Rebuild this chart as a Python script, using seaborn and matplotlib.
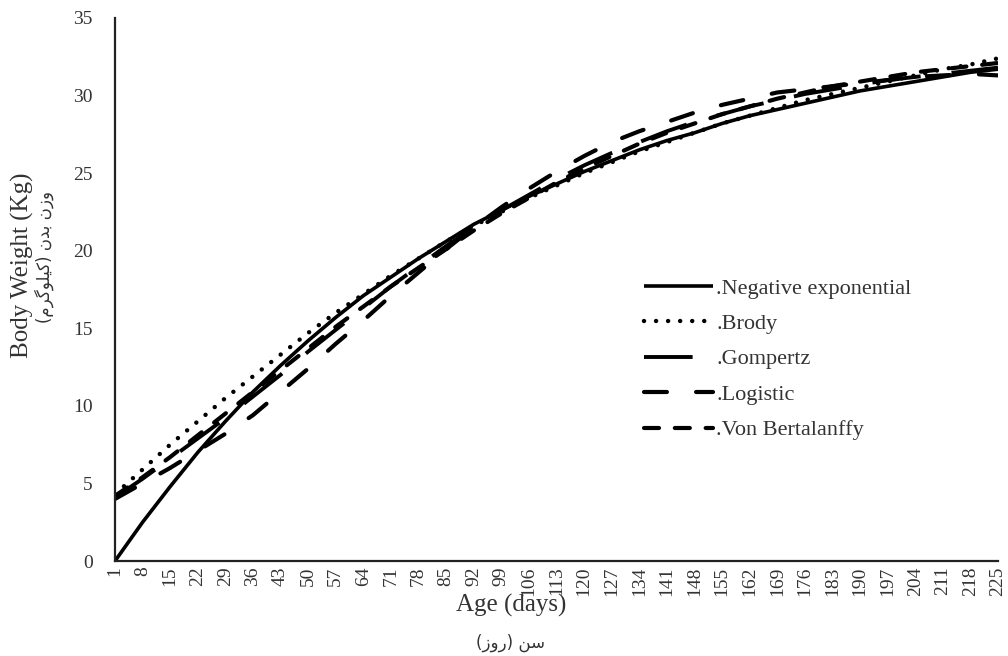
import matplotlib
matplotlib.use("Agg")
import matplotlib.pyplot as plt
import seaborn as sns
import pandas as pd

days = [1, 8, 15, 22, 29, 36, 43, 50, 57, 64, 71, 78, 85, 92, 99, 106, 113,
        120, 127, 134, 141, 148, 155, 162, 169, 176, 183, 190, 197, 204, 211, 218, 225]

neg_exp = [0.0, 2.5, 4.8, 7.0, 9.0, 10.9, 12.6, 14.2, 15.7, 17.1, 18.3, 19.5, 20.6, 21.7, 22.6, 23.5, 24.3,
           25.1, 25.8, 26.5, 27.1, 27.6, 28.2, 28.7, 29.1, 29.5, 29.9, 30.3, 30.6, 30.9, 31.2, 31.5, 31.7]
brody = [4.3, 5.9, 7.5, 9.0, 10.5, 11.9, 13.3, 14.7, 16.0, 17.2, 18.4, 19.5, 20.6, 21.6, 22.5, 23.4, 24.2,
         25.0, 25.7, 26.4, 27.0, 27.6, 28.2, 28.7, 29.2, 29.7, 30.1, 30.5, 30.9, 31.3, 31.7, 32.0, 32.4]
gompertz = [4.1, 5.3, 6.6, 7.9, 9.2, 10.6, 12.0, 13.5, 14.9, 16.3, 17.7, 19.0, 20.3, 21.5, 22.6, 23.6, 24.6,
            25.5, 26.3, 27.0, 27.7, 28.3, 28.8, 29.3, 29.7, 30.1, 30.4, 30.7, 31.0, 31.2, 31.4, 31.6, 31.8]
logistic = [4.0, 5.0, 6.0, 7.1, 8.2, 9.4, 10.9, 12.4, 14.0, 15.5, 17.1, 18.6, 20.1, 21.5, 22.8, 24.0, 25.1,
            26.1, 27.0, 27.7, 28.3, 28.9, 29.4, 29.8, 30.2, 30.4, 30.6, 30.8, 31.0, 31.2, 31.3, 31.4, 31.3]
von_bert = [4.2, 5.4, 6.7, 8.1, 9.5, 10.9, 12.3, 13.7, 15.1, 16.4, 17.7, 18.9, 20.1, 21.3, 22.4, 23.4, 24.4,
            25.3, 26.1, 26.9, 27.6, 28.2, 28.8, 29.3, 29.8, 30.2, 30.6, 30.9, 31.2, 31.5, 31.7, 31.9, 32.1]

labels = [".Negative exponential", ".Brody", ".Gompertz", ".Logistic", ".Von Bertalanffy"]
series = [neg_exp, brody, gompertz, logistic, von_bert]

# Persian labels, pre-shaped (presentation forms, visual order)
ylabel_fa = "(\uFEE1\uFEAE\uFB94\uFEEE\uFEE0\uFBFF\uFB90) \uFEE5\uFEAA\uFE91 \uFEE5\uFEAF\uFEED"
xlabel_fa = "(\uFEAF\uFEED\uFEAD) \uFEE6\uFEB3"

sns.set_theme(style="white")
plt.rcParams["font.family"] = ["Liberation Serif", "DejaVu Sans"]

df = pd.DataFrame({
    "day": days * len(series),
    "weight": [v for s in series for v in s],
    "model": [lab for lab, s in zip(labels, series) for _ in s],
})

fig = plt.figure(figsize=(10.08, 6.56), dpi=100)
ax = fig.add_axes([115 / 1008, (656 - 561) / 656, 883 / 1008, 543 / 656])

styles = [
    dict(lw=2.6, ls="-", cap="butt"),
    dict(lw=3.2, ls=(0, (0.01, 2.7)), cap="round"),
    dict(lw=2.8, ls=(0, (12.5, 8)), cap="butt"),
    dict(lw=3.0, ls=(0, (5.5, 7.0)), cap="round"),
    dict(lw=3.0, ls=(0, (3.6, 3.8)), cap="round"),
]

for lab, st in zip(labels, styles):
    sub = df[df["model"] == lab]
    sns.lineplot(data=sub, x="day", y="weight", ax=ax, color="black",
                 linewidth=st["lw"], label=lab, legend=False)
    line = ax.lines[-1]
    line.set_linestyle(st["ls"])
    line.set_dash_capstyle(st["cap"])
    line.set_solid_capstyle("butt")

ax.set_xlim(1, 225)
ax.set_ylim(0, 35)
ax.set_xticks(days)
ax.set_xticklabels([str(d) for d in days], rotation=90, fontsize=14, color="#333333")
ax.set_yticks(range(0, 36, 5))
ax.set_yticklabels([str(v) for v in range(0, 36, 5)], fontsize=14, color="#333333")
ax.tick_params(axis="x", length=0, pad=4)
ax.tick_params(axis="y", length=0, pad=16)
ax.set_xlabel("")
ax.set_ylabel("")
for side in ["top", "right"]:
    ax.spines[side].set_visible(False)
for side in ["left", "bottom"]:
    ax.spines[side].set_color("#222222")
    ax.spines[side].set_linewidth(1.6)
ax.grid(False)

fig.text(22 / 1008, 1 - 265 / 656, "Body Weight (Kg)", rotation=90, ha="center", va="center",
         fontsize=18, color="#333333")
fig.text(44 / 1008, 1 - 257 / 656, ylabel_fa, rotation=90, ha="center", va="center",
         fontsize=12, color="#333333", family=["DejaVu Sans"])
fig.text(511 / 1008, 1 - 605 / 656, "Age (days)", ha="center", va="center",
         fontsize=18, color="#333333")
fig.text(511 / 1008, 1 - 643 / 656, xlabel_fa, ha="center", va="center",
         fontsize=12, color="#333333", family=["DejaVu Sans"])

leg = ax.legend(handles=ax.lines[:5], labels=labels, loc="upper left",
                bbox_to_anchor=(644 / 1008, 1 - 278 / 656), bbox_transform=fig.transFigure,
                frameon=False, fontsize=16, handlelength=3.1, handletextpad=0.15,
                labelspacing=0.67, borderpad=0, borderaxespad=0)
for t in leg.get_texts():
    t.set_color("#333333")

fig.savefig("out.png", dpi=100)
